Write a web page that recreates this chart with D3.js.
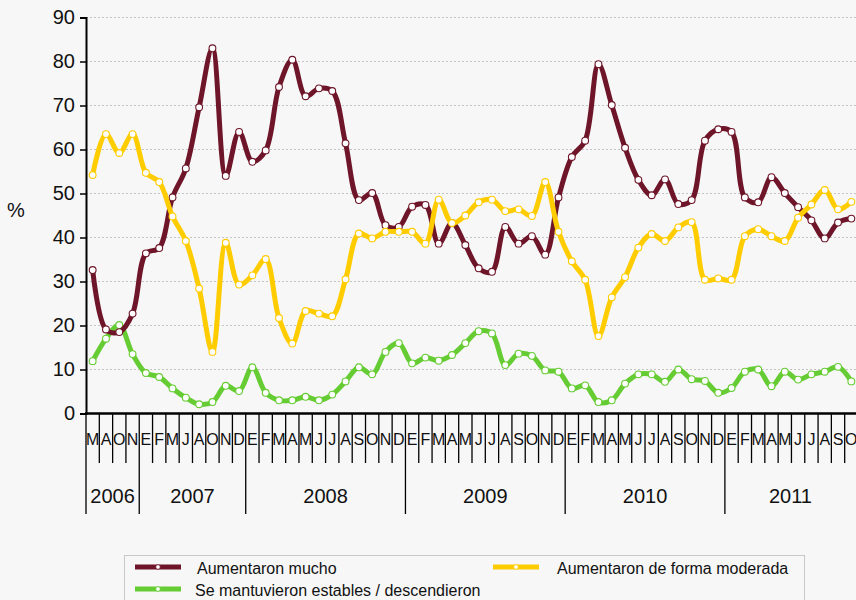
<!DOCTYPE html>
<html>
<head>
<meta charset="utf-8">
<script src="https://cdn.jsdelivr.net/npm/d3@7"></script>
<style>
    html, body { margin: 0; padding: 0; background: #f7f7f7; }
    svg { display: block; font-family: Arial, "Liberation Sans", sans-serif; }
</style>
</head>
<body>
<svg id="chart" width="856" height="600"></svg>
<script>
// Month labels per year, as printed under the axis
const years = ['2006', '2007', '2008', '2009', '2010', '2011'];
const monthsByYear = [
    ['M', 'A', 'O', 'N'],
    ['E', 'F', 'M', 'J', 'A', 'O', 'N', 'D'],
    ['E', 'F', 'M', 'A', 'M', 'J', 'J', 'A', 'S', 'O', 'N', 'D'],
    ['E', 'F', 'M', 'A', 'M', 'J', 'J', 'A', 'S', 'O', 'N', 'D'],
    ['E', 'F', 'M', 'A', 'M', 'J', 'J', 'A', 'S', 'O', 'N', 'D'],
    ['E', 'F', 'M', 'A', 'M', 'J', 'J', 'A', 'S', 'O']
];

// Series values (%)
const mucho = [
    32.6, 19.1, 18.5, 22.7,
    36.4, 37.6, 49.1, 55.7, 69.6, 83.0, 54.0, 64.0,
    57.2, 59.8, 74.2, 80.4, 72.1, 73.9, 73.3, 61.4, 48.5, 50.1, 42.8, 42.4,
    47.0, 47.4, 38.6, 43.3, 38.3, 33.0, 32.2, 42.4, 38.6, 40.3, 36.1, 49.1,
    58.3, 62.0, 79.4, 70.1, 60.4, 53.1, 49.6, 53.2, 47.6, 48.5, 62.0, 64.6,
    64.0, 49.1, 48.0, 53.7, 50.1, 46.9, 43.9, 39.8, 43.4, 44.3
];
const moderada = [
    54.2, 63.5, 59.2, 63.5,
    54.7, 52.6, 44.8, 39.2, 28.4, 14.0, 38.8, 29.3,
    31.4, 35.1, 21.7, 15.9, 23.3, 22.7, 22.1, 30.5, 40.9, 39.8, 41.3, 41.3,
    41.3, 38.6, 48.6, 43.3, 45.0, 48.0, 48.6, 46.0, 46.4, 44.9, 52.6, 41.3,
    34.6, 30.4, 17.6, 26.4, 31.0, 37.7, 40.8, 39.2, 42.3, 43.5, 30.4, 30.7,
    30.4, 40.3, 41.9, 40.3, 39.2, 44.5, 47.5, 50.8, 46.4, 48.1
];
const estables = [
    11.9, 17.0, 20.1, 13.5,
    9.2, 8.3, 5.7, 3.6, 2.1, 2.6, 6.3, 5.1,
    10.5, 4.7, 3.0, 3.0, 3.8, 3.0, 4.3, 7.3, 10.5, 8.9, 14.0, 16.0,
    11.4, 12.7, 12.0, 13.3, 16.0, 18.7, 18.2, 11.0, 13.6, 13.1, 9.8, 9.5,
    5.7, 6.4, 2.6, 3.0, 6.8, 8.9, 8.9, 7.2, 10.0, 7.8, 7.4, 4.7,
    5.8, 9.5, 10.0, 6.2, 9.5, 7.7, 8.9, 9.5, 10.6, 7.3
];

const seriesNames = ['Aumentaron mucho', 'Aumentaron de forma moderada', 'Se mantuvieron estables / descendieron'];
const yTicks = [0, 10, 20, 30, 40, 50, 60, 70, 80, 90];

const colors = ['#6e1529', '#ffcc00', '#66cc33'];

// Flatten categories
const categories = [];
monthsByYear.forEach((months, yi) => {
    months.forEach(m => categories.push({ year: years[yi], label: m }));
});
const idx = categories.map((d, i) => i);

const svg = d3.select('#chart');
const plotLeft = 86, plotRight = 858, plotTop = 17.5, plotBottom = 413.5;

// Background
svg.append('rect').attr('width', 856).attr('height', 600).attr('fill', '#f7f7f7');

const x = d3.scaleBand().domain(idx).range([plotLeft, plotRight]);
const y = d3.scaleLinear().domain([0, 90]).range([plotBottom, plotTop]);

// Grid
svg.append('g')
    .selectAll('line')
    .data(yTicks.filter(t => t > 0))
    .enter()
    .append('line')
    .attr('x1', plotLeft).attr('x2', 856)
    .attr('y1', d => y(d)).attr('y2', d => y(d))
    .attr('stroke', '#c4c4c4')
    .attr('stroke-width', 1)
    .attr('stroke-dasharray', '2,2');

// Y axis
const yAxis = d3.axisLeft(y).tickValues(yTicks).tickSize(6).tickPadding(5);
const gy = svg.append('g').attr('transform', `translate(${plotLeft},0)`).call(yAxis);
gy.select('.domain').attr('stroke', '#000').attr('stroke-width', 2);
gy.selectAll('.tick line').attr('stroke', '#000').attr('stroke-width', 1.5);
gy.selectAll('.tick text').attr('font-size', 20).attr('fill', '#111')
    .attr('font-family', 'Arial, "Liberation Sans", sans-serif');

svg.append('text')
    .attr('x', 16).attr('y', 217)
    .attr('text-anchor', 'middle')
    .attr('font-size', 20)
    .attr('fill', '#111')
    .text('%');

// X axis: baseline, month ticks, year ticks
const gx = svg.append('g');
gx.append('line')
    .attr('x1', plotLeft - 1).attr('x2', 856)
    .attr('y1', plotBottom).attr('y2', plotBottom)
    .attr('stroke', '#000').attr('stroke-width', 2.5);

// year start indices
const yearStarts = [];
let acc = 0;
monthsByYear.forEach(m => { yearStarts.push(acc); acc += m.length; });

gx.selectAll('.mtick')
    .data(idx)
    .enter()
    .append('line')
    .attr('x1', d => x(d)).attr('x2', d => x(d))
    .attr('y1', plotBottom)
    .attr('y2', d => yearStarts.includes(d) ? 514 : 463)
    .attr('stroke', '#000')
    .attr('stroke-width', 1.3);

gx.selectAll('.mlabel')
    .data(categories)
    .enter()
    .append('text')
    .attr('x', (d, i) => x(i) + x.bandwidth() / 2)
    .attr('y', 445)
    .attr('text-anchor', 'middle')
    .attr('font-size', 16)
    .attr('fill', '#111')
    .text(d => d.label);

gx.selectAll('.ylabel')
    .data(years)
    .enter()
    .append('text')
    .attr('x', (d, i) => {
        const a = x(yearStarts[i]);
        const b = x(yearStarts[i] + monthsByYear[i].length - 1) + x.bandwidth();
        return (a + Math.min(b, 856)) / 2;
    })
    .attr('y', 503)
    .attr('text-anchor', 'middle')
    .attr('font-size', 20)
    .attr('fill', '#111')
    .text(d => d);

// Lines
const line = d3.line()
    .x((d, i) => x(i) + x.bandwidth() / 2)
    .y(d => y(d))
    .curve(d3.curveCatmullRom.alpha(0.5));

const allSeries = [mucho, moderada, estables];
const order = [2, 0, 1];

order.forEach(si => {
    const vals = allSeries[si];
    svg.append('path')
        .datum(vals)
        .attr('d', line)
        .attr('fill', 'none')
        .attr('stroke', colors[si])
        .attr('stroke-width', 5)
        .attr('stroke-linejoin', 'round');
    svg.append('g')
        .selectAll('circle')
        .data(vals)
        .enter()
        .append('circle')
        .attr('cx', (d, i) => x(i) + x.bandwidth() / 2)
        .attr('cy', d => y(d))
        .attr('r', 3.4)
        .attr('fill', '#fff')
        .attr('stroke', colors[si])
        .attr('stroke-width', 1.1);
});

// Legend
const legend = svg.append('g');
legend.append('rect')
    .attr('x', 124.5).attr('y', 555.5)
    .attr('width', 680).attr('height', 60)
    .attr('fill', '#f7f7f7')
    .attr('stroke', '#c8c8c8');

const legendPos = [
    { x: 135, y: 567, tx: 197 },
    { x: 493, y: 567, tx: 557 },
    { x: 135, y: 589, tx: 195 }
];
seriesNames.forEach((name, i) => {
    const p = legendPos[i];
    legend.append('line')
        .attr('x1', p.x).attr('x2', p.x + 46)
        .attr('y1', p.y).attr('y2', p.y)
        .attr('stroke', colors[i]).attr('stroke-width', 5);
    legend.append('circle')
        .attr('cx', p.x + 23).attr('cy', p.y)
        .attr('r', 2.3).attr('fill', '#fff')
        .attr('stroke', colors[i]).attr('stroke-width', 0.8);
    legend.append('text')
        .attr('x', p.tx).attr('y', p.y + 7)
        .attr('font-size', 16)
        .attr('fill', '#111')
        .text(name);
});
</script>
</body>
</html>
